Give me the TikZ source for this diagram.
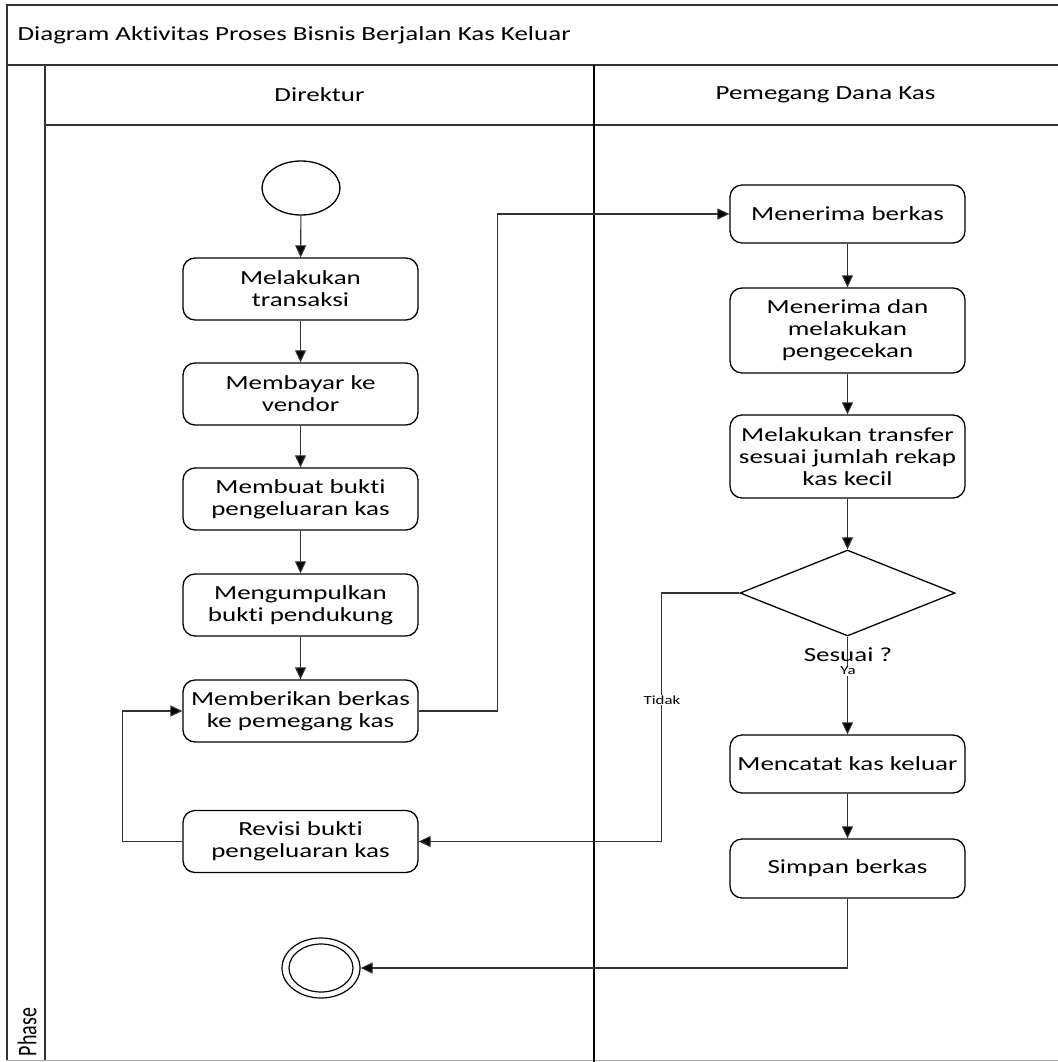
\documentclass[tikz,border=0pt]{standalone}
\usepackage{fontspec}
\setmainfont{Carlito}[FakeStretch=1.35,Ligatures=NoCommon]
\newfontfamily\phasefont{Carlito}[Ligatures=NoCommon]
\usetikzlibrary{arrows.meta,shapes.geometric}

\begin{document}
\begin{tikzpicture}[x=1pt,y=-1pt,
  lane/.style={draw=black!80,line width=1.6pt},
  txt/.style={font=\fontsize{20}{22}\selectfont},
  act/.style={draw=black,line width=1.3pt,rounded corners=12pt,minimum width=235pt,
              inner sep=2pt,align=center,font=\fontsize{20}{22}\selectfont},
  flow/.style={draw=black!80,line width=1.1pt,-{Triangle[length=12pt,width=11pt,fill=black]}},
  small/.style={font=\fontsize{12.5}{13}\selectfont,inner sep=1pt,fill=white}
]
\useasboundingbox (0,0) rectangle (1057,1062);
\fill[white] (0,0) rectangle (1057,1062);

% pool frame, title band, phase column and lane headers
\draw[lane] (7,1060) -- (7,5) -- (1060,5);
\draw[lane] (7,65) -- (1060,65);
\draw[lane] (45,65) -- (45,1060);
\draw[lane] (45,125) -- (1060,125);
\draw[draw=black!35,line width=1pt] (7,1060) -- (1060,1060);
\draw[black,line width=2pt] (594,65) -- (594,1063);

\node[txt,anchor=west] (title) at (14,35) {Diagram Aktivitas Proses Bisnis Berjalan Kas Keluar};
\node[txt] (lane1) at (319.5,95) {Direktur};
\node[txt] (lane2) at (825.5,95) {Pemegang Dana Kas};
\node[rotate=90,font=\phasefont\fontsize{20}{22}\selectfont] (phase) at (27,1032)
  {\scalebox{1}[1.35]{Phase}};

% Direktur lane
\node[draw,ellipse,line width=1.3pt,minimum width=78pt,minimum height=54pt,inner sep=0pt]
  (start) at (301,188) {};
\node[act,minimum height=62pt] (a1) at (300.5,289) {Melakukan\\transaksi};
\node[act,minimum height=62pt] (a2) at (300.5,394) {Membayar ke\\vendor};
\node[act,minimum height=62pt] (a3) at (300.5,499) {Membuat bukti\\pengeluaran kas};
\node[act,minimum height=62pt] (a4) at (300.5,605) {Mengumpulkan\\bukti pendukung};
\node[act,minimum height=62pt] (a5) at (300.5,711) {Memberikan berkas\\ke pemegang kas};
\node[act,minimum height=62pt] (a6) at (300.5,841.5) {Revisi bukti\\pengeluaran kas};
\node[draw,ellipse,line width=1.2pt,minimum width=78pt,minimum height=60pt,inner sep=0pt]
  (end) at (321,968) {};
\node[draw,ellipse,line width=1.2pt,minimum width=64pt,minimum height=48pt,inner sep=0pt]
  (endin) at (321,968) {};

% Pemegang Dana Kas lane
\node[act,minimum height=58pt] (b1) at (847.5,214) {Menerima berkas};
\node[act,minimum height=85pt] (b2) at (847.5,330.5) {Menerima dan\\melakukan\\pengecekan};
\node[act,minimum height=83pt] (b3) at (847.5,456.5) {Melakukan transfer\\sesuai jumlah rekap\\kas kecil};
\node[draw,diamond,line width=1.3pt,minimum width=215pt,minimum height=86pt,inner sep=0pt]
  (d) at (847.5,593) {};
\node[act,minimum height=58pt] (b4) at (847.5,764) {Mencatat kas keluar};
\node[act,minimum height=59pt] (b5) at (847.5,868.5) {Simpan berkas};

% control flow
\draw[flow] (start) -- (a1);
\draw[flow] (a1) -- (a2);
\draw[flow] (a2) -- (a3);
\draw[flow] (a3) -- (a4);
\draw[flow] (a4) -- (a5);
\draw[flow] (a5.east) -- ++(79,0) |- (b1.west);
\draw[flow] (b1) -- (b2);
\draw[flow] (b2) -- (b3);
\draw[flow] (b3) -- (d);
\draw[flow] (d.south) -- (b4.north);
\draw[flow] (b4) -- (b5);
\draw[flow] (b5.south) |- (end.east);
\draw[flow] (d.west) -- ++(-78,0) |- (a6.east);
\draw[flow] (a6.west) -- ++(-60,0) |- (a5.west);

% guard labels
\node[txt] (q) at (848,655) {Sesuai ?};
\node[small] (ya) at (848,671) {Ya};
\node[small] (tidak) at (662,700) {Tidak};
\end{tikzpicture}
\end{document}
